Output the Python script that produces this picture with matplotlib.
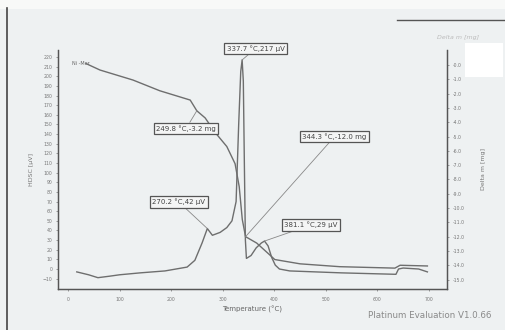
import matplotlib.pyplot as plt
from matplotlib.lines import Line2D
from matplotlib.patches import Rectangle

# DSC curve (left axis, uV)
dsc_temp = [17, 40, 58, 80, 100, 140, 188, 231, 246, 260, 270.2, 280, 295, 308, 318,
            326, 331, 335, 337.7, 340, 342, 344, 346, 355, 365, 375, 381.1, 388,
            395, 402, 410, 430, 480, 530, 600, 636, 641, 650, 680, 697]
dsc_uv = [-3, -6, -9, -7.5, -6, -4, -2, 2, 9, 27, 42, 35, 38, 43, 50,
          70, 150, 205, 217, 195, 110, 30, 11, 14, 22, 27, 29, 24,
          12, 4, 0, -2, -3, -4, -5, -5.5, 0, 1, 0, -3]

# TGA curve (right axis, mg)
tga_temp = [35, 62, 126, 178, 237, 249.8, 266, 285, 308, 324, 332, 338, 344.3,
            366, 392, 401, 450, 527, 634, 644, 697]
tga_mg = [0.1, -0.35, -1.05, -1.8, -2.45, -3.2, -3.7, -4.7, -5.7, -6.9, -8.5, -10.8, -12.0,
          -12.45, -13.3, -13.6, -13.9, -14.1, -14.2, -14.0, -14.05]

dsc_peaks = [(337.7, 217, '337.7 °C,217 µV', 364, 229),
             (270.2, 42, '270.2 °C,42 µV', 215, 69.5),
             (381.1, 29, '381.1 °C,29 µV', 471, 45.7)]
tga_points = [(249.8, -3.2, '249.8 °C,-3.2 mg', 229, -4.44),
              (344.3, -12.0, '344.3 °C,-12.0 mg', 517, -5.0)]

x_ticks = [0, 100, 200, 300, 400, 500, 600, 700]
left_ticks = list(range(-10, 230, 10))
right_ticks = [-float(i) for i in range(0, 16)]

bg = '#eef1f2'
line_c = '#6e6e6e'
txt_c = '#777777'

fig = plt.figure(figsize=(5.06, 3.30), dpi=100, facecolor=bg)

# page decorations from the scan
fig.add_artist(Line2D([7 / 506, 7 / 506], [0, 1 - 8 / 330], color='#444444', lw=1.2))
fig.add_artist(Rectangle((0, 1 - 9 / 330), 1, 9 / 330, color='#f8f9f8', lw=0))
fig.add_artist(Line2D([397 / 506, 1], [1 - 20 / 330, 1 - 20 / 330], color='#555555', lw=1))
fig.add_artist(Rectangle((465 / 506, 1 - 77 / 330), 38 / 506, 34 / 330, color='white', lw=0, zorder=5))
fig.text(437 / 506, 1 - 37 / 330, 'Delta m [mg]', fontsize=4.5, color='#bbbbbb', style='italic',
         va='center')

ax = fig.add_axes([58 / 506, 1 - 289 / 330, 389 / 506, 239 / 330])
ax.set_facecolor(bg)
ax2 = ax.twinx()

ax.plot(dsc_temp, dsc_uv, color=line_c, lw=1)
ax2.plot(tga_temp, tga_mg, color=line_c, lw=1)

ax.set_xlim(-19.4, 735)
ax.set_ylim(-20.75, 227.3)
ax2.set_ylim(-15.66, 1.05)

ax.set_xticks(x_ticks)
ax.set_yticks(left_ticks)
ax2.set_yticks(right_ticks)
ax2.set_yticklabels([f'{v:.1f}' for v in right_ticks])

for a in (ax, ax2):
    a.spines['top'].set_visible(False)
    for s in ('left', 'right', 'bottom'):
        a.spines[s].set_color('#555555')
        a.spines[s].set_linewidth(0.9)
    a.tick_params(length=1.5, width=0.5, color='#777777', labelsize=3.3, labelcolor=txt_c, pad=2.5)
ax.tick_params(axis='x', pad=4)

ax.set_xlabel('Temperature (°C)', fontsize=5, color='#666666', labelpad=3)
ax.set_ylabel('HDSC [µV]', fontsize=4.5, color='#777777', labelpad=6)
ax2.set_ylabel('Delta m [mg]', fontsize=4.5, color='#777777', labelpad=12)

box = dict(boxstyle='square,pad=0.35', fc='#f4f5f5', ec='#555555', lw=0.9)
arrow = dict(arrowstyle='-', color='#888888', lw=0.6, shrinkA=0, shrinkB=0)
for tx, val, lab, bx, by in dsc_peaks:
    ax.annotate(lab, xy=(tx, val), xytext=(bx, by), fontsize=5, color='#444444',
                ha='center', va='center', bbox=box, arrowprops=arrow)
for tx, val, lab, bx, by in tga_points:
    ax2.annotate(lab, xy=(tx, val), xytext=(bx, by), fontsize=5, color='#444444',
                 ha='center', va='center', bbox=box, arrowprops=arrow)

ax.text(8, 213, 'Ni -Mer', fontsize=3.5, color='#666666', va='center')

fig.text(368 / 506, 1 - 316 / 330, 'Platinum Evaluation V1.0.66', fontsize=6.3,
         color='#8a8a8a', va='center')

fig.savefig('out.png', dpi=100, facecolor=bg)
